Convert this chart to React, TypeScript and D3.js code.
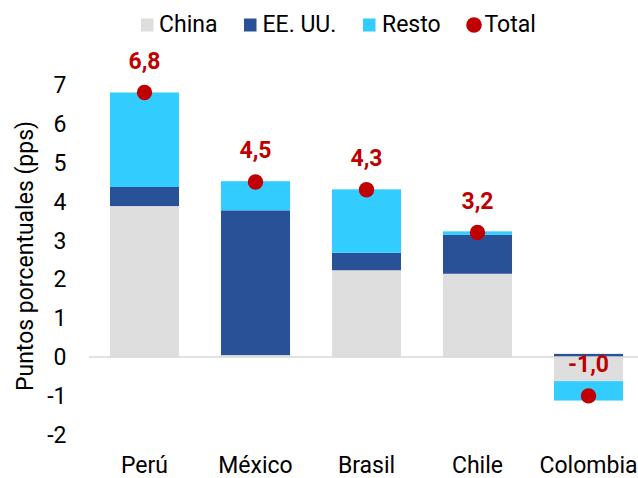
import React from "react";
import * as d3 from "d3";

const categories = ["Perú", "México", "Brasil", "Chile", "Colombia"];
const china = [3.88, 0.05, 2.23, 2.14, -0.62];
const eeuu = [0.49, 3.72, 0.45, 1.0, 0.08];
const resto = [2.43, 0.75, 1.63, 0.09, -0.5];
const total = [6.8, 4.5, 4.3, 3.2, -1.0];
const totalLabels = ["6,8", "4,5", "4,3", "3,2", "-1,0"];
const yTicks = [-2, -1, 0, 1, 2, 3, 4, 5, 6, 7];

const seriesNames = ["China", "EE. UU.", "Resto"];
const seriesColors = ["#DEDEDE", "#295197", "#33CCFF"];
const seriesValues = [china, eeuu, resto];

const W = 638;
const H = 478;
const FONT = "Roboto, 'Noto Sans', sans-serif";
const FS = 23;

export default function App() {
  const x = d3.scaleBand<string>().domain(categories).range([89, 644]).paddingInner(0.378).paddingOuter(0.189);
  const y = d3.scaleLinear().domain([-2, 7]).range([434.8, 84.7]);

  const segments: { key: string; x: number; y0: number; y1: number; color: string }[] = [];
  categories.forEach((c, i) => {
    let pos = 0;
    let neg = 0;
    seriesValues.forEach((s, k) => {
      const v = s[i];
      let a: number, b: number;
      if (v >= 0) {
        a = pos;
        b = pos + v;
        pos = b;
      } else {
        a = neg;
        b = neg + v;
        neg = b;
      }
      segments.push({ key: `${c}-${k}`, x: x(c)!, y0: y(a), y1: y(b), color: seriesColors[k] });
    });
  });

  const legendItems = [
    { name: seriesNames[0], color: seriesColors[0], sx: 141, tx: 159, type: "sq" },
    { name: seriesNames[1], color: seriesColors[1], sx: 244, tx: 262.5, type: "sq" },
    { name: seriesNames[2], color: seriesColors[2], sx: 363, tx: 382, type: "sq" },
    { name: "Total", color: "#C00000", sx: 474, tx: 484.5, type: "dot" },
  ];

  return (
    <svg width={W} height={H} style={{ position: "absolute", left: 0, top: 0, background: "#fff" }} fontFamily={FONT}>
      <rect width={W} height={H} fill="#fff" />
      {segments.map((s) => (
        <rect
          key={s.key}
          x={s.x}
          width={x.bandwidth()}
          y={Math.min(s.y0, s.y1)}
          height={Math.abs(s.y1 - s.y0)}
          fill={s.color}
        />
      ))}
      <line x1={89} x2={W} y1={y(0)} y2={y(0)} stroke="#D9D9D9" strokeWidth={1.5} />
      {yTicks.map((t) => (
        <text key={t} x={66.5} y={y(t) + 8.2} textAnchor="end" fontSize={FS} fill="#000">
          {t}
        </text>
      ))}
      <text transform={`translate(32.5,${256}) rotate(-90)`} textAnchor="middle" fontSize={FS} fill="#000">
        Puntos porcentuales (pps)
      </text>
      {categories.map((c) => (
        <text key={c} x={x(c)! + x.bandwidth() / 2} y={473.3} textAnchor="middle" fontSize={FS} fill="#000">
          {c}
        </text>
      ))}
      {categories.map((c, i) => (
        <g key={`t-${c}`}>
          <circle cx={x(c)! + x.bandwidth() / 2} cy={y(total[i])} r={7.7} fill="#C00000" />
          <text
            x={x(c)! + x.bandwidth() / 2}
            y={y(total[i]) - 23.5}
            textAnchor="middle"
            fontSize={FS}
            fontWeight="bold"
            fill="#C00000"
          >
            {totalLabels[i]}
          </text>
        </g>
      ))}
      {legendItems.map((l) => (
        <g key={l.name}>
          {l.type === "sq" ? (
            <rect x={l.sx} y={18.5} width={12.5} height={13} fill={l.color} />
          ) : (
            <circle cx={l.sx} cy={25} r={7.8} fill={l.color} />
          )}
          <text x={l.tx} y={31.7} fontSize={FS} fill="#000">
            {l.name}
          </text>
        </g>
      ))}
    </svg>
  );
}
